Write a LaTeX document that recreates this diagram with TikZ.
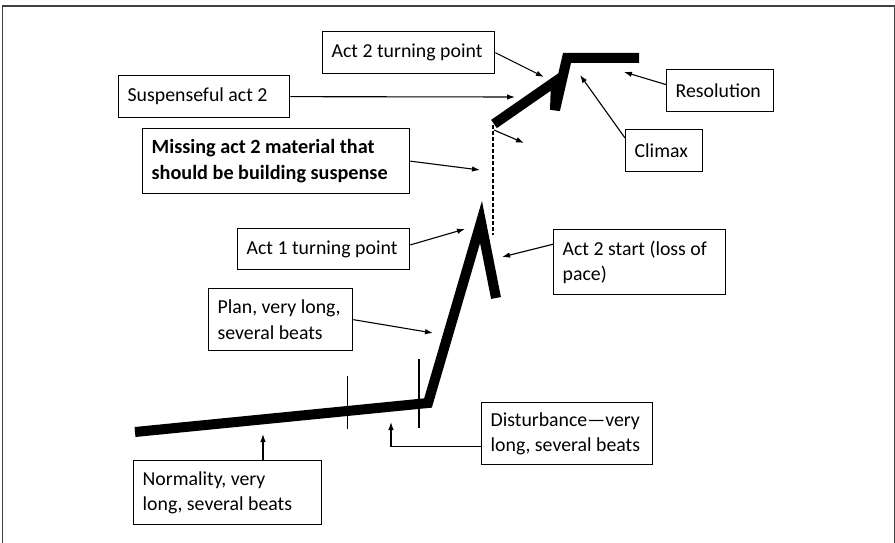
\documentclass[tikz,border=0pt]{standalone}
\usepackage{fontspec}
\setmainfont{Carlito}
\usetikzlibrary{arrows.meta,calc}
\begin{document}
\begin{tikzpicture}[x=1pt,y=-1pt,
  box/.style={draw, line width=1.3pt, anchor=north west, inner xsep=9pt,
    inner ysep=0pt, align=flush left, font=\fontsize{19.8}{25.5}\selectfont},
  ptr/.style={line width=1.1pt, -{Latex[length=8pt,width=5.5pt]}},
  story/.style={line width=10pt, line join=miter, line cap=butt},
  tick/.style={line width=1.2pt}]
\useasboundingbox (0,0) rectangle (895,543);
% frame
\draw[line width=1.5pt, black!75] (2.5,560) -- (2.5,6) -- (894.5,6) -- (894.5,560);

% labels (one \mbox per printed line)
\node[box, text width=153pt, minimum height=42pt] (susp) at (118,75) {\mbox{Suspenseful act 2}};
\node[box, text width=154pt, minimum height=42pt] (atwotp) at (322,31) {\mbox{Act 2 turning point}};
\node[box, text width=249pt, minimum height=65pt, font=\fontsize{20.2}{25.5}\selectfont\bfseries] (miss) at (142,128) {\mbox{Missing act 2 material that}\\\mbox{should be building suspense}};
\node[box, text width=154pt, minimum height=41pt] (aonetp) at (237,228) {\mbox{Act 1 turning point}};
\node[box, text width=154pt, minimum height=65pt] (atwostart) at (553,229) {\mbox{Act 2 start (loss of}\\\mbox{pace)}};
\node[box, text width=126pt, minimum height=62pt] (plan) at (208,288) {\mbox{Plan, very long,}\\\mbox{several beats}};
\node[box, text width=153pt, minimum height=62pt] (dist) at (481,402) {\mbox{Disturbance—very}\\\mbox{long, several beats}};
\node[box, text width=170pt, minimum height=64pt] (norm) at (133,460) {\mbox{Normality, very}\\\mbox{long, several beats}};
\node[box, text width=59pt, minimum height=42pt] (climax) at (625,129) {\mbox{Climax}};
\node[box, text width=89pt, minimum height=42pt] (resol) at (666,69) {\mbox{Resolution}};

% story curve
\draw[story] (135,432) -- (428,403) -- (481,222) -- (496,298);
\draw[story] (494,124) -- (556,81) -- (555,110) -- (567,58) -- (639,58);
\draw[line width=1.2pt, dash pattern=on 4pt off 2pt] (493,125) -- (493,235);
\draw[tick] (347.7,376) -- (347.7,429);
\draw[tick] (419,359) -- (419,428);

% pointer targets
\coordinate (tsusp) at (515,97);
\coordinate (tatwotp) at (544,77);
\coordinate (tmiss) at (480,170);
\coordinate (taonetp) at (465,229);
\coordinate (tatwostart) at (502,257);
\coordinate (tplan) at (433,333);
\coordinate (tdist) at (391,422);
\coordinate (tnorm) at (263,434);
\coordinate (tclimax) at (580,75);
\coordinate (tresol) at (624,72);
\coordinate (gapstart) at (494,130);
\coordinate (gapend) at (524,143);

% pointers
\draw[ptr] (susp.east) -- (tsusp);
\draw[ptr] (atwotp.east) -- (tatwotp);
\draw[ptr] (miss.east) -- (tmiss);
\draw[ptr] ($(aonetp.north east)!0.4!(aonetp.south east)$) -- (taonetp);
\draw[ptr] ($(atwostart.north west)!0.23!(atwostart.south west)$) -- (tatwostart);
\draw[ptr] (plan.east) -- (tplan);
\draw[ptr] ($(dist.north west)!0.71!(dist.south west)$) -| (tdist);
\draw[ptr] (norm.north west -| tnorm) -- (tnorm);
\draw[ptr] ($(climax.north west)+(0,9)$) -- (tclimax);
\draw[ptr] ($(resol.north west)!0.36!(resol.south west)$) -- (tresol);
\draw[ptr] (gapstart) -- (gapend);
\end{tikzpicture}
\end{document}
